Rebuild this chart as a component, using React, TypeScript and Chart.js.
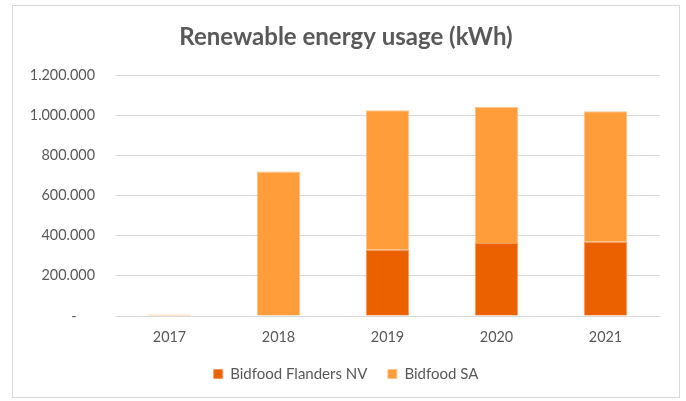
import React, { useEffect, useRef } from "react";
import { Chart, registerables } from "chart.js";

Chart.register(...registerables);

const categories = ["2017", "2018", "2019", "2020", "2021"];
const flandersNV = [0, 0, 330000, 364000, 370000];
const bidfoodSA = [8000, 720000, 695000, 677000, 650000];
const yTicks = [0, 200000, 400000, 600000, 800000, 1000000, 1200000];

const TEXT = "#595959";
const FONT = "Lato, 'Open Sans', sans-serif";

const fmt = (v: number) =>
  v === 0 ? "-     " : Math.round(v).toString().replace(/\B(?=(\d{3})+(?!\d))/g, ".");

export default function App() {
  const ref = useRef<HTMLCanvasElement | null>(null);

  useEffect(() => {
    if (!ref.current) return;
    const chart = new Chart(ref.current, {
      type: "bar",
      data: {
        labels: categories,
        datasets: [
          {
            label: "Bidfood Flanders NV",
            data: flandersNV,
            backgroundColor: "#EB6100",
            borderColor: "#F4995A",
            borderWidth: 1,
            barPercentage: 0.4,
            categoryPercentage: 1,
          },
          {
            label: "Bidfood SA",
            data: bidfoodSA,
            backgroundColor: "#FF9D3A",
            borderColor: "#FFC48D",
            borderWidth: 1,
            barPercentage: 0.4,
            categoryPercentage: 1,
          },
        ],
      },
      options: {
        animation: false,
        responsive: false,
        maintainAspectRatio: false,
        layout: { padding: { left: 6, right: 0, top: 22.6, bottom: 9.5 } },
        plugins: {
          title: {
            display: true,
            text: "Renewable energy usage (kWh)",
            color: TEXT,
            font: { family: FONT, size: 24, weight: "bold" },
            padding: { top: 0, bottom: 23.6 },
          },
          legend: {
            position: "bottom",
            labels: {
              color: TEXT,
              font: { family: FONT, size: 15 },
              boxWidth: 9,
              boxHeight: 9,
              padding: 20.5,
            },
          },
          tooltip: { enabled: false },
        },
        scales: {
          x: {
            stacked: true,
            grid: { display: false, drawTicks: false },
            border: { color: "#d9d9d9", width: 1 },
            ticks: { color: TEXT, font: { family: FONT, size: 14.4 }, padding: 12.4 },
            afterFit: (scale: any) => {
              scale.height = 30;
            },
          },
          y: {
            stacked: true,
            min: 0,
            max: 1200000,
            afterBuildTicks: (scale: any) => {
              scale.ticks = yTicks.map((v) => ({ value: v }));
            },
            afterFit: (scale: any) => {
              scale.width = 109;
            },
            grid: { color: "#d9d9d9", lineWidth: 1, drawTicks: false },
            border: { display: false },
            ticks: {
              color: TEXT,
              font: { family: FONT, size: 14.4 },
              padding: 20,
              callback: (v: any) => fmt(Number(v)),
            },
          },
          yRight: {
            type: "linear",
            position: "right",
            display: true,
            grid: { display: false, drawTicks: false },
            border: { display: false },
            ticks: { display: false },
            afterFit: (scale: any) => {
              scale.width = 26;
            },
          },
        },
      },
    });
    return () => chart.destroy();
  }, []);

  return (
    <div
      style={{
        position: "fixed",
        left: 0,
        top: 0,
        width: 686,
        height: 401,
        background: "#fff",
      }}
    >
      <div
        style={{
          position: "absolute",
          left: 12,
          top: 5,
          width: 666,
          height: 391,
          border: "1px solid #d9d9d9",
        }}
      />
      <canvas
        ref={ref}
        width={686}
        height={401}
        style={{ position: "absolute", left: 0, top: 0, width: 686, height: 401 }}
      />
    </div>
  );
}
